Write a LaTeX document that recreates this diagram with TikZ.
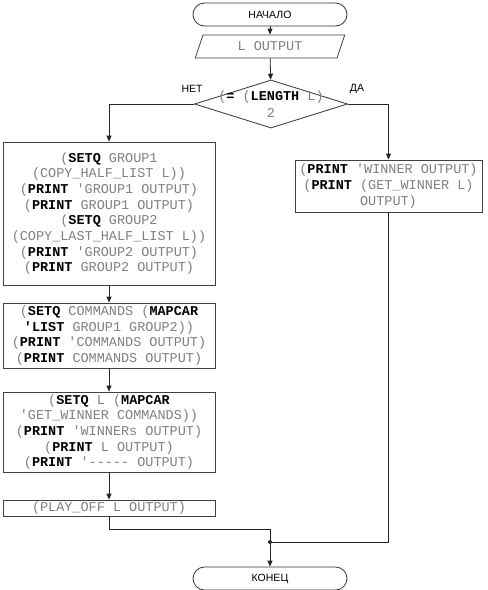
\documentclass[tikz,border=0pt]{standalone}
\usepackage{fontspec}
\setmainfont{Liberation Sans}
\setmonofont{Liberation Mono}
\usetikzlibrary{arrows.meta,positioning,shapes.geometric,calc}
\newcommand{\kw}[1]{\textcolor{black}{\textbf{#1}}}
\newcommand{\lispfont}{\ttfamily\fontsize{13.5}{15.7}\selectfont}
\tikzset{
  flowarr/.style={-{Triangle[length=6pt,width=5pt]}, draw=black!85, line width=0.8pt},
  flowline/.style={draw=black!85, line width=0.8pt},
  termbox/.style={draw=black!80, line width=0.8pt, rounded corners=11.5pt, minimum width=154pt, minimum height=23pt, inner sep=0pt, font=\fontsize{10.5}{12}\selectfont},
  codebox/.style={draw=black!75, line width=0.8pt, align=center, inner sep=0pt, font=\lispfont, text=black!50},
}
\begin{document}
\begin{tikzpicture}[
  x=1pt, y=-1pt,
  iobox/.style={codebox, trapezium, trapezium left angle=68, trapezium right angle=112, trapezium stretches=true, minimum width=150pt, minimum height=23pt},
  decision/.style={draw=black!80, line width=0.8pt, diamond, aspect=3.2, inner sep=0pt, minimum width=153pt, minimum height=48pt},
  lisptext/.style={align=center, inner sep=0pt, font=\lispfont, text=black!50},
  branch/.style={font=\fontsize{10.5}{12}\selectfont},
]
  \path[fill=white] (0,0) rectangle (488,590);
  \useasboundingbox (0,0) rectangle (488,590);

  \node[termbox] (start) at (270,14.5) {НАЧАЛО};
  \node[iobox] (inp) at (270,46.5) {L OUTPUT};
  \node[decision] (cond) at (271,104) {};
  \node[lisptext] (condtxt) at (cond) {(\kw{=} (\kw{LENGTH} L)\\[2pt]2};
  \node[branch] (no) at (192,89) {НЕТ};
  \node[branch] (yes) at (357,89) {ДА};

  % left branch
  \node[codebox, minimum width=212pt, minimum height=143pt] (group) at (109,213.5) {%
    (\kw{SETQ} GROUP1\\
    (COPY\_HALF\_LIST L))\\
    (\kw{PRINT} 'GROUP1 OUTPUT)\\
    (\kw{PRINT} GROUP1 OUTPUT)\\
    (\kw{SETQ} GROUP2\\
    (COPY\_LAST\_HALF\_LIST L))\\
    (\kw{PRINT} 'GROUP2 OUTPUT)\\
    (\kw{PRINT} GROUP2 OUTPUT)};
  \node[codebox, minimum width=212pt, minimum height=65pt] (cmds) at (109,335.5) {%
    (\kw{SETQ} COMMANDS (\kw{MAPCAR}\\
    \kw{'LIST} GROUP1 GROUP2))\\
    (\kw{PRINT} 'COMMANDS OUTPUT)\\
    (\kw{PRINT} COMMANDS OUTPUT)};
  \node[codebox, minimum width=212pt, minimum height=80pt] (winners) at (109,432) {%
    (\kw{SETQ} L (\kw{MAPCAR}\\
    'GET\_WINNER COMMANDS))\\
    (\kw{PRINT} 'WINNERs OUTPUT)\\
    (\kw{PRINT} L OUTPUT)\\
    (\kw{PRINT} '----- OUTPUT)};
  \node[codebox, minimum width=212pt, minimum height=16pt] (play) at (109,508) {(PLAY\_OFF L OUTPUT)};

  % right branch
  \node[codebox, minimum width=187pt, minimum height=52pt] (win) at (388.5,186) {%
    (\kw{PRINT} 'WINNER OUTPUT)\\
    (\kw{PRINT} (GET\_WINNER L)\\
    OUTPUT)};

  \node[termbox] (finish) at (270,578.5) {КОНЕЦ};
  \coordinate (merge) at (270,542);

  \draw[flowarr] (start) -- (inp);
  \draw[flowarr] (inp) -- (cond);
  \draw[flowarr] (cond.west) -| (group.north);
  \draw[flowarr] (cond.east) -| (win.north);
  \draw[flowarr] (group) -- (cmds);
  \draw[flowarr] (cmds) -- (winners);
  \draw[flowarr] (winners) -- (play);
  \draw[flowarr] (play.south) -- ++(0,13) -| (finish.north);
  \draw[flowline] (win.south) |- (merge);
  \fill[black!85] (merge) circle (2pt);
\end{tikzpicture}
\end{document}
